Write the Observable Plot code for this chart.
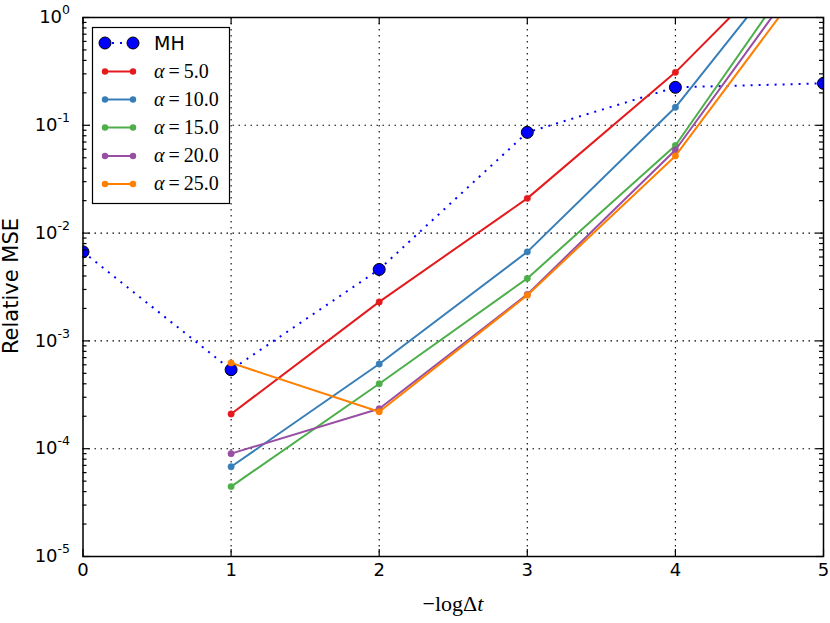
<!DOCTYPE html>
<html><head><meta charset="utf-8">
<script src="https://cdn.jsdelivr.net/npm/d3@7"></script>
<script src="https://cdn.jsdelivr.net/npm/@observablehq/plot@0.6"></script>
<style>body{margin:0;background:#fff} svg{display:block}</style>
</head><body><div id="chart"></div>
<script>
// ---- data ----
const mhX = [0, 1, 2, 3, 4, 5];
const mhValues = [6.7e-3, 5.4e-4, 4.6e-3, 0.086, 0.225, 0.245];
const alphaX = [1, 2, 3, 4, 5];
const alphaLabels = ["5.0", "10.0", "15.0", "20.0", "25.0"];
const alpha5  = [2.1e-4, 2.3e-3, 0.021, 0.31, 7.5];
const alpha10 = [6.8e-5, 6.1e-4, 6.7e-3, 0.147, 7.8];
const alpha15 = [4.45e-5, 4.0e-4, 3.8e-3, 0.065, 6.0];
const alpha20 = [9.0e-5, 2.35e-4, 2.7e-3, 0.059, 4.6];
const alpha25 = [6.25e-4, 2.2e-4, 2.65e-3, 0.052, 3.6];
const alphaSeries = [alpha5, alpha10, alpha15, alpha20, alpha25];
const colors = ["#e41a1c", "#377eb8", "#4daf4a", "#984ea3", "#ff7f00"];
const xTicks = [0, 1, 2, 3, 4, 5];
const xTickLabels = ["0", "1", "2", "3", "4", "5"];
const yTicks = [1e-5, 1e-4, 1e-3, 1e-2, 1e-1, 1];
const yTickExponents = ["-5", "-4", "-3", "-2", "-1", "0"];
const minorTicks = [];
for (let k = -5; k < 0; k++) for (let m = 2; m <= 9; m++) minorTicks.push(m * Math.pow(10, k));

const mhRows = mhX.map((x, i) => ({x, y: mhValues[i]}));
const alphaRows = alphaSeries.map((vals, s) => alphaX.map((x, i) => ({x, y: vals[i], s: alphaLabels[s]})));

const W = 830, H = 623, ML = 82.5, MR = 7, MT = 17, MB = 67;
const FW = W - ML - MR, FH = H - MT - MB;

const seriesMarks = [];
alphaRows.forEach((rows, s) => {
  seriesMarks.push(Plot.line(rows, {x: "x", y: "y", stroke: "s", strokeWidth: 2, clip: "frame"}));
  seriesMarks.push(Plot.dot(rows, {x: "x", y: "y", fill: "s", stroke: "s", strokeWidth: 0.5, r: 3.2, clip: "frame"}));
});

const grid = {stroke: "black", strokeOpacity: 1, strokeWidth: 1.1, strokeDasharray: "1.5,4.5"};
const tk = {stroke: "black", strokeWidth: 1.2};
const plot = Plot.plot({
  width: W, height: H,
  marginLeft: ML, marginRight: MR, marginTop: MT, marginBottom: MB,
  x: {domain: [0, 5]},
  y: {type: "log", domain: [1e-5, 1]},
  color: {domain: alphaLabels, range: colors},
  style: {fontFamily: "DejaVu Sans", fontSize: "18px", background: "white", color: "black"},
  marks: [
    Plot.gridX(xTicks.slice(1, -1), grid),
    Plot.gridY(yTicks.slice(1, -1), grid),
    Plot.line(mhRows, {x: "x", y: "y", stroke: "#0000ff", strokeWidth: 2, strokeDasharray: "2,6", strokeLinecap: "butt", clip: "frame"}),
    Plot.dot(mhRows, {x: "x", y: "y", fill: "#0000ff", stroke: "black", strokeWidth: 1, r: 6, clip: "frame"}),
    ...seriesMarks,
    // inward ticks on all four sides
    Plot.tickX(xTicks, {x: d => d, insetTop: FH - 7, ...tk}),
    Plot.tickX(xTicks, {x: d => d, insetBottom: FH - 7, ...tk}),
    Plot.tickY(yTicks, {y: d => d, insetRight: FW - 7, ...tk}),
    Plot.tickY(yTicks, {y: d => d, insetLeft: FW - 7, ...tk}),
    Plot.tickY(minorTicks, {y: d => d, insetRight: FW - 4, ...tk}),
    Plot.tickY(minorTicks, {y: d => d, insetLeft: FW - 4, ...tk}),
    Plot.frame({stroke: "black", strokeWidth: 1.5}),
    Plot.axisX(xTicks, {anchor: "bottom", tickSize: 0, tickPadding: 7, label: null, fontSize: 18,
      tickFormat: d => xTickLabels[xTicks.indexOf(d)]}),
    Plot.axisY(yTicks, {anchor: "left", tickSize: 0, tickPadding: 13, label: null, fontSize: 18,
      tickFormat: d => "10^" + yTickExponents[yTicks.indexOf(d)]})
  ]
});
document.getElementById("chart").appendChild(plot);

const svg = d3.select(plot);
// superscript exponents on y tick labels
svg.selectAll("text").each(function () {
  const t = this.textContent;
  if (t.startsWith("10^")) {
    const exp = t.slice(3);
    const sel = d3.select(this);
    sel.text("");
    sel.append("tspan").text("10");
    sel.append("tspan").attr("dy", -9).attr("font-size", 12.5).text(exp);
  }
});

// axis labels
svg.append("text")
  .attr("transform", "translate(18,286) rotate(-90)")
  .attr("text-anchor", "middle")
  .attr("font-family", "DejaVu Sans").attr("font-size", 21)
  .text("Relative MSE");
const xl = svg.append("text")
  .attr("x", 453).attr("y", 611)
  .attr("text-anchor", "middle")
  .attr("font-family", "Liberation Serif").attr("font-size", 22);
xl.append("tspan").text("\u2212log\u0394");
xl.append("tspan").attr("font-style", "italic").text("t");

// legend
const lg = svg.append("g").attr("text-anchor", "start");
lg.append("rect").attr("x", 92.5).attr("y", 27.5).attr("width", 137).attr("height", 176)
  .attr("fill", "white").attr("stroke", "black").attr("stroke-width", 1.2);
const rowY = [43, 71.5, 99.5, 127.5, 156, 184];
// MH row
lg.append("line").attr("x1", 105).attr("x2", 133).attr("y1", rowY[0]).attr("y2", rowY[0])
  .attr("stroke", "#0000ff").attr("stroke-width", 2).attr("stroke-dasharray", "2,6").attr("stroke-dashoffset", -7);
[105, 133].forEach(cx => lg.append("circle").attr("cx", cx).attr("cy", rowY[0]).attr("r", 6)
  .attr("fill", "#0000ff").attr("stroke", "black").attr("stroke-width", 1));
lg.append("text").attr("x", 154).attr("y", rowY[0] + 7).attr("text-anchor", "start")
  .attr("font-family", "DejaVu Sans").attr("font-size", 19).text("MH");
alphaLabels.forEach((lab, i) => {
  const y = rowY[i + 1];
  lg.append("line").attr("x1", 105).attr("x2", 133).attr("y1", y).attr("y2", y)
    .attr("stroke", colors[i]).attr("stroke-width", 2);
  [105, 133].forEach(cx => lg.append("circle").attr("cx", cx).attr("cy", y).attr("r", 3.2).attr("fill", colors[i]));
  const t = lg.append("text").attr("x", 154).attr("y", y + 6).attr("text-anchor", "start")
    .attr("font-family", "Liberation Serif").attr("font-size", 20);
  t.append("tspan").attr("font-style", "italic").text("\u03b1");
  t.append("tspan").text("\u2009=\u2009" + lab);
});
</script>
</body></html>
